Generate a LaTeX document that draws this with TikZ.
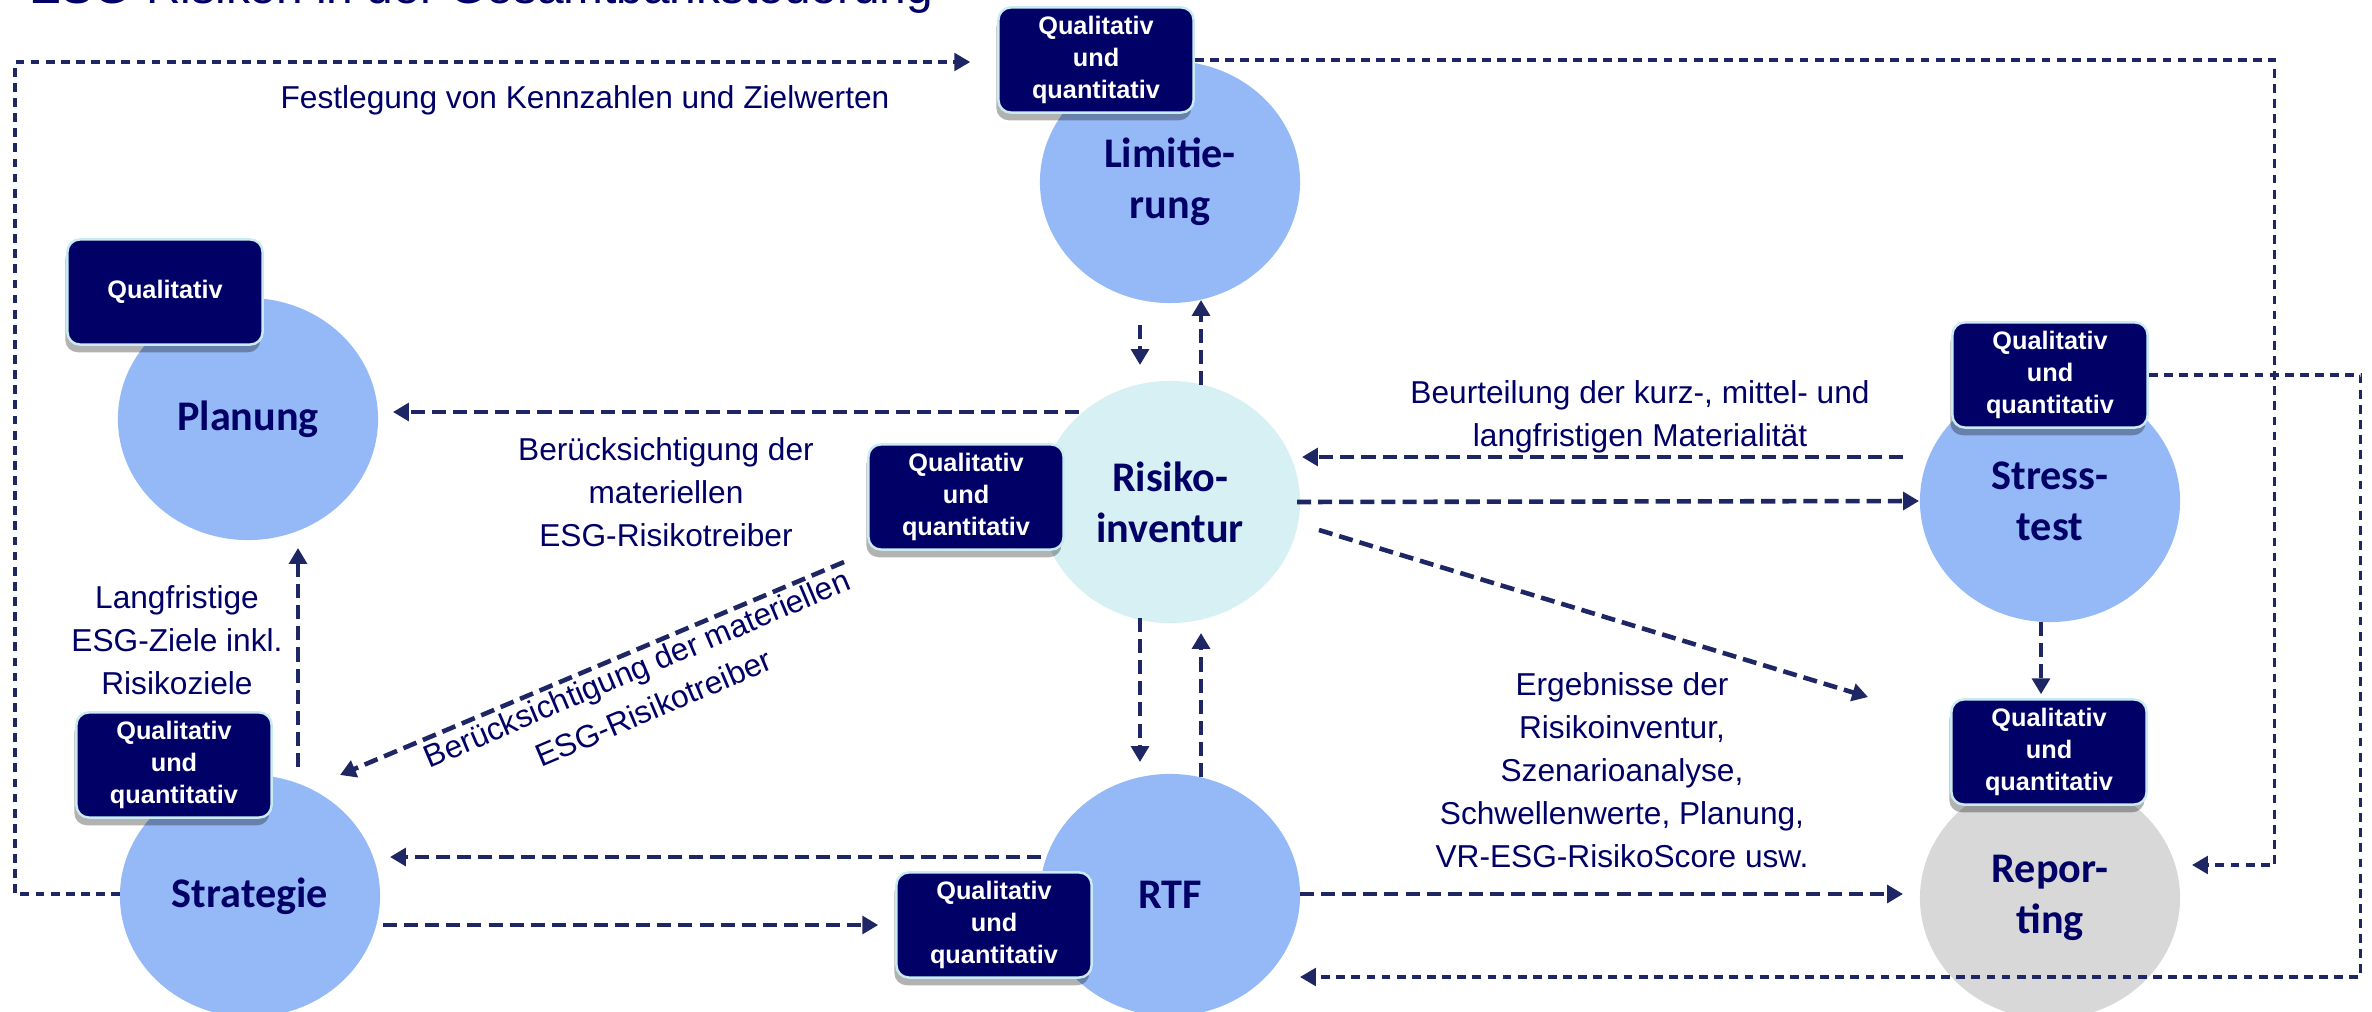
\documentclass[tikz,border=0pt]{standalone}
\usepackage{fontspec}
\setmainfont{Liberation Sans}
\newfontfamily\calib{Carlito}
\usetikzlibrary{shapes.geometric,shadows,arrows.meta,calc}
\definecolor{navy}{RGB}{0,0,102}
\definecolor{arrcol}{RGB}{30,38,100}
\definecolor{bluefill}{RGB}{149,185,247}
\definecolor{cyanfill}{RGB}{214,240,244}
\definecolor{grayfill}{RGB}{216,216,216}
\definecolor{rimcol}{RGB}{200,236,242}

\begin{document}
\begin{tikzpicture}[x=0.01cm,y=-0.01cm,
    circ/.style={ellipse,minimum width=2.6cm,minimum height=2.42cm,inner sep=0pt,fill=bluefill,text=navy,align=center,font=\calib\bfseries\fontsize{12pt}{14.5pt}\selectfont},
    qbox/.style={rectangle,rounded corners=3.5pt,fill=navy,draw=rimcol,line width=0.7pt,minimum width=1.95cm,minimum height=1.05cm,inner sep=0pt,text=white,align=center,font=\bfseries\fontsize{7.2pt}{9pt}\selectfont,drop shadow={shadow xshift=-0.6pt,shadow yshift=-2.2pt,fill=black,opacity=0.3}},
    lbl/.style={text=navy,align=center,font=\fontsize{9pt}{12.2pt}\selectfont},
    arr/.style={draw=arrcol,line width=1.3pt,dash pattern=on 4pt off 2pt,-{Triangle[length=4.5pt,width=5pt]}},
    lp/.style={draw=arrcol,line width=0.95pt,dash pattern=on 2.5pt off 1.8pt,-{Triangle[length=4.5pt,width=5pt]}}]
    \useasboundingbox (0,0) rectangle (2372,1012);
    \clip (0,0) rectangle (2372,1012);
    \node (h) at (17,4) [anchor=base west,text=navy,font=\fontsize{13.6pt}{16pt}\selectfont] {ESG-Risiken in der Gesamtbanksteuerung};
    \node[circ] (p) at (248,419) {Planung};
    \node[circ] (l) at (1170,182) {Limitie-\\rung};
    \node[circ,fill=cyanfill] (r) at (1170,502) {Risiko-\\inventur};
    \node[circ] (s) at (2050,501) {Stress-\\test};
    \node[circ] (g) at (250,896) {Strategie};
    \node[circ] (t) at (1170,895) {RTF};
    \node[circ,fill=grayfill] (e) at (2050,898) {Repor-\\ting};
    \node[qbox] (lq) at (1096,60) {Qualitativ\\und\\quantitativ};
    \node[qbox] (pq) at (165,292) {Qualitativ};
    \node[qbox] (rq) at (966,497) {Qualitativ\\und\\quantitativ};
    \node[qbox] (gq) at (174,765) {Qualitativ\\und\\quantitativ};
    \node[qbox] (tq) at (994,925) {Qualitativ\\und\\quantitativ};
    \node[qbox] (sq) at (2050,375) {Qualitativ\\und\\quantitativ};
    \node[qbox] (eq) at (2049,752) {Qualitativ\\und\\quantitativ};
    \node[lbl] (f) at (585,100) {Festlegung von Kennzahlen und Zielwerten};
    \node[lbl] (b) at (666,492) {Berücksichtigung der\\materiellen\\ESG-Risikotreiber};
    \node[lbl] (z) at (177,640) {Langfristige\\ESG-Ziele inkl.\\Risikoziele};
    \node[lbl,rotate=23] (d) at (645,688) {Berücksichtigung der materiellen\\ESG-Risikotreiber};
    \node[lbl] (m) at (1640,417) {Beurteilung der kurz-, mittel- und\\langfristigen Materialität};
    \node[lbl] (k) at (1622,770) {Ergebnisse der\\Risikoinventur,\\Szenarioanalyse,\\Schwellenwerte, Planung,\\VR-ESG-RisikoScore usw.};
    \draw[arr] ($(r)+(-91,-90)$) -- ($(p)+(145,-7)$);
    \draw[arr] ($(s)+(-147,-44)$) -- ($(r)+(132,-45)$);
    \draw[arr] ($(r)+(127,0)$) -- ($(s)+(-131,0)$);
    \draw[arr] ($(r)+(149,28)$) -- ($(e)+(-182,-201)$);
    \draw[arr] ($(l)+(-30,143)$) -- ($(r)+(-30,-137)$);
    \draw[arr] ($(r)+(31,-117)$) -- ($(l)+(31,118)$);
    \draw[arr] ($(r)+(-30,116)$) -- ($(t)+(-30,-133)$);
    \draw[arr] ($(t)+(31,-118)$) -- ($(r)+(31,131)$);
    \draw[arr] ($(t)+(-129,-38)$) -- ($(g)+(140,-39)$);
    \draw[arr] ($(g)+(133,29)$) -- ($(tq.west)+(-17,0)$);
    \draw[arr] ($(t)+(130,-1)$) -- ($(e)+(-147,-4)$);
    \draw[arr] ($(s)+(-9,121)$) -- ($(eq.north)+(-8,-4)$);
    \draw[arr] ($(g)+(48,-129)$) -- ($(p)+(50,129)$);
    \draw[arr] ($(r)+(-326,60)$) -- ($(g)+(90,-121)$);
    \draw[lp] ($(g)+(-130,-2)$) -- ++(-105,0) |- ($(lq.west)+(-27,2)$);
    \draw[lp] (lq.east) -- ++(1080,0) |- ($(e)+(142,-33)$);
    \draw[lp] (sq.east) -- ++(212,0) |- ($(t)+(130,82)$);
\end{tikzpicture}
\end{document}
